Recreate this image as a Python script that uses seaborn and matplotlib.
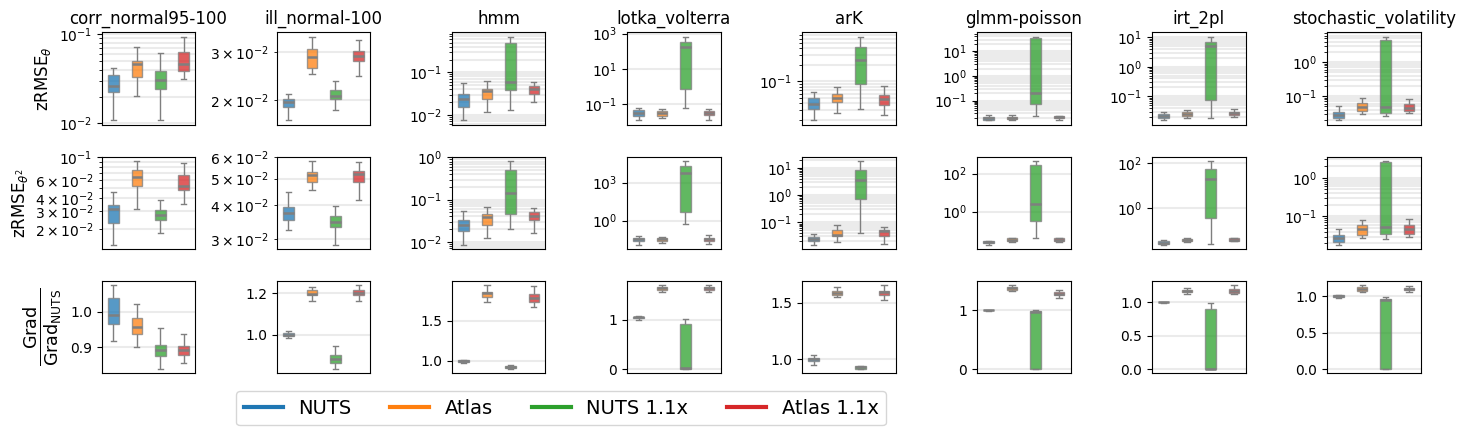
import numpy as np
import pandas as pd
import matplotlib
matplotlib.use("Agg")
import matplotlib.pyplot as plt
import seaborn as sns
from matplotlib.lines import Line2D

methods = ["NUTS", "Atlas", "NUTS 1.1x", "Atlas 1.1x"]
colors = ["tab:blue", "tab:orange", "tab:green", "tab:red"]
models = ["corr_normal95-100", "ill_normal-100", "hmm", "lotka_volterra",
          "arK", "glmm-poisson", "irt_2pl", "stochastic_volatility"]
row_labels = [r"zRMSE$_\theta$", r"zRMSE$_{\theta^2}$",
              r"$\frac{\mathrm{Grad}}{\mathrm{Grad}_{\mathrm{NUTS}}}$"]

# each box: [min, q1, median, q3, max], order NUTS, Atlas, NUTS 1.1x, Atlas 1.1x
# ---- zRMSE theta ----
zt_corr = [[0.0108, 0.0224, 0.0261, 0.0352, 0.0421], [0.0205, 0.0334, 0.0459, 0.0504, 0.0705],
           [0.0108, 0.0245, 0.0304, 0.0387, 0.0604], [0.0312, 0.039, 0.0467, 0.063, 0.0934]]
zt_ill = [[0.01687, 0.01895, 0.01966, 0.0202, 0.02116], [0.02495, 0.0264, 0.02874, 0.03094, 0.0343],
          [0.01837, 0.02028, 0.0208, 0.02178, 0.0235], [0.02466, 0.02779, 0.02916, 0.03043, 0.0332]]
zt_hmm = [[0.00734, 0.01545, 0.023, 0.0313, 0.055], [0.01135, 0.023, 0.0369, 0.0411, 0.0613],
          [0.01265, 0.0383, 0.0591, 0.484, 0.696], [0.01995, 0.0313, 0.0397, 0.0484, 0.0581]]
zt_lotka = [[0.0134, 0.0217, 0.0321, 0.0476, 0.0593], [0.0153, 0.0217, 0.0294, 0.04, 0.0543],
            [0.0618, 0.745, 182, 351, 675], [0.0118, 0.0247, 0.0321, 0.0418, 0.0543]]
zt_ark = [[0.0195, 0.0319, 0.0393, 0.0505, 0.0649], [0.0269, 0.0415, 0.0498, 0.0589, 0.0789],
          [0.0319, 0.0882, 0.251, 0.421, 0.658], [0.0248, 0.0377, 0.0478, 0.0565, 0.0834]]
zt_glmm = [[0.0158, 0.0168, 0.019, 0.0215, 0.026], [0.0156, 0.0179, 0.0196, 0.0215, 0.0252],
           [0.023, 0.0708, 0.2, 35, 39.7], [0.0155, 0.0195, 0.0215, 0.0232, 0.0235]]
zt_irt = [[0.0152, 0.0183, 0.0214, 0.0243, 0.030], [0.0187, 0.0219, 0.0256, 0.0292, 0.0351],
          [0.0187, 0.0731, 4.93, 7.1, 10.5], [0.0203, 0.0231, 0.0263, 0.030, 0.038]]
zt_stoch = [[0.0192, 0.0225, 0.0282, 0.0346, 0.052], [0.0302, 0.0371, 0.0475, 0.0637, 0.0893],
            [0.0252, 0.0323, 0.0475, 4.54, 5.69], [0.0323, 0.0354, 0.0454, 0.0582, 0.0798]]

# ---- zRMSE theta^2 ----
zs_corr = [[0.01424, 0.02318, 0.03114, 0.03454, 0.0461], [0.03138, 0.0522, 0.0637, 0.075, 0.0915],
           [0.01858, 0.0244, 0.02727, 0.0307, 0.0383], [0.0353, 0.0482, 0.0522, 0.0662, 0.0863]]
zs_ill = [[0.03251, 0.03536, 0.03729, 0.03932, 0.04473], [0.0455, 0.04865, 0.05131, 0.05291, 0.05801],
          [0.02867, 0.03334, 0.03467, 0.03647, 0.03977], [0.0417, 0.04865, 0.05173, 0.05336, 0.05754]]
zs_hmm = [[0.0085, 0.0183, 0.0254, 0.0334, 0.0547], [0.01245, 0.0254, 0.038, 0.0456, 0.0681],
          [0.0204, 0.0464, 0.1415, 0.508, 0.833], [0.0164, 0.0334, 0.0409, 0.0518, 0.0645]]
zs_lotka = [[0.0127, 0.0233, 0.0336, 0.0455, 0.0617], [0.0183, 0.0248, 0.0336, 0.0455, 0.0514],
            [0.546, 4.83, 6150, 20700, 51300], [0.0144, 0.0248, 0.0336, 0.0455, 0.0741]]
zs_ark = [[0.0148, 0.0205, 0.0244, 0.0282, 0.0355], [0.0183, 0.0307, 0.0335, 0.0516, 0.0772],
          [0.0398, 0.75, 3.65, 8.18, 18.3], [0.0158, 0.0307, 0.046, 0.0516, 0.0668]]
zs_glmm = [[0.0183, 0.0215, 0.0243, 0.0275, 0.0298], [0.0253, 0.0275, 0.0336, 0.0395, 0.0428],
           [0.0411, 0.323, 2.54, 286, 464], [0.0253, 0.0275, 0.0336, 0.0395, 0.0411]]
zs_irt = [[0.024, 0.0256, 0.0293, 0.0336, 0.0397], [0.0313, 0.0347, 0.0397, 0.0439, 0.047],
          [0.0265, 0.352, 19.9, 54.6, 122], [0.0336, 0.0359, 0.041, 0.0455, 0.047]]
zs_stoch = [[0.0185, 0.0217, 0.027, 0.0323, 0.0461], [0.0281, 0.0336, 0.048, 0.0609, 0.082],
            [0.0254, 0.0349, 0.054, 2.59, 2.75], [0.0298, 0.0356, 0.048, 0.0609, 0.087]]

# ---- Grad / Grad_NUTS ----
gr_corr = [[0.917, 0.9651, 0.9925, 1.0406, 1.0755], [0.900, 0.9368, 0.9575, 0.9821, 1.0217],
           [0.8387, 0.8745, 0.8934, 0.9075, 0.9538], [0.8547, 0.8774, 0.8925, 0.9028, 0.9368]]
gr_ill = [[0.9824, 0.992, 1.0, 1.008, 1.0192], [1.16, 1.1888, 1.1968, 1.2128, 1.2288],
          [0.8352, 0.8624, 0.8832, 0.9008, 0.944], [1.16, 1.1904, 1.2016, 1.2144, 1.2384]]
gr_hmm = [[0.975, 0.99, 1.0, 1.008, 1.012], [1.733, 1.796, 1.8375, 1.858, 1.94],
          [0.896, 0.91, 0.925, 0.94, 0.95], [1.671, 1.733, 1.779, 1.825, 1.925]]
gr_lotka = [[1.0, 1.033, 1.053, 1.066, 1.079], [1.57, 1.609, 1.636, 1.662, 1.702],
            [0.005, 0.01, 0.02, 0.92, 1.02], [1.563, 1.609, 1.636, 1.662, 1.702]]
gr_ark = [[0.953, 0.988, 1.0, 1.0148, 1.0355], [1.55, 1.571, 1.589, 1.6065, 1.639],
          [0.914, 0.917, 0.929, 0.938, 0.944], [1.524, 1.568, 1.592, 1.6065, 1.657]]
gr_glmm = [[0.995, 0.998, 1.0, 1.002, 1.005], [1.318, 1.335, 1.369, 1.392, 1.426],
           [0.0, 0.005, 0.977, 0.995, 1.006], [1.199, 1.256, 1.278, 1.301, 1.341]]
gr_irt = [[0.995, 0.998, 1.0, 1.002, 1.005], [1.129, 1.153, 1.173, 1.188, 1.208],
          [0.0, 0.004, 0.008, 0.906, 0.985], [1.129, 1.139, 1.173, 1.198, 1.257]]
gr_stoch = [[0.977, 0.986, 1.0, 1.009, 1.018], [1.055, 1.073, 1.1, 1.127, 1.15],
            [0.0, 0.002, 0.94, 0.96, 0.986], [1.055, 1.082, 1.095, 1.109, 1.136]]

rows = [
    [zt_corr, zt_ill, zt_hmm, zt_lotka, zt_ark, zt_glmm, zt_irt, zt_stoch],
    [zs_corr, zs_ill, zs_hmm, zs_lotka, zs_ark, zs_glmm, zs_irt, zs_stoch],
    [gr_corr, gr_ill, gr_hmm, gr_lotka, gr_ark, gr_glmm, gr_irt, gr_stoch],
]

fig, axes = plt.subplots(3, 8, figsize=(14.65, 4.37), dpi=100)
fig.subplots_adjust(left=0.0694, right=0.9698, top=0.926, bottom=0.1458,
                    wspace=0.868, hspace=0.346)

line_gray = "#7f7f7f"
for r, row in enumerate(rows):
    for c, stats in enumerate(row):
        ax = axes[r, c]
        df = pd.DataFrame({
            "method": np.repeat(methods, 5),
            "value": np.concatenate([np.asarray(s, float) for s in stats]),
        })
        if r < 2:
            ax.set_yscale("log")
        sns.boxplot(data=df, x="method", y="value", hue="method", order=methods,
                    hue_order=methods, palette=colors, width=0.45, whis=(0, 100),
                    showfliers=False, linecolor=line_gray, linewidth=1, saturation=1,
                    boxprops={"alpha": 0.75}, medianprops={"linewidth": 1.8},
                    legend=False, ax=ax)
        ax.grid(True, axis="y", which="both", color="#ebebeb", linewidth=1.5)
        ax.set_axisbelow(True)
        ax.set_xticks([])
        ax.set_xlabel("")
        if c == 0:
            ax.set_ylabel(row_labels[r], fontsize=18 if r == 2 else 12)
        else:
            ax.set_ylabel("")
        if r == 0:
            ax.set_title(models[c], fontsize=12)

handles = [Line2D([0], [0], color=col, lw=3) for col in colors]
fig.legend(handles, methods, loc="center", bbox_to_anchor=(0.383, 0.066),
           ncol=4, fontsize=14, handlelength=2.0)

fig.savefig("out.png", dpi=100)
